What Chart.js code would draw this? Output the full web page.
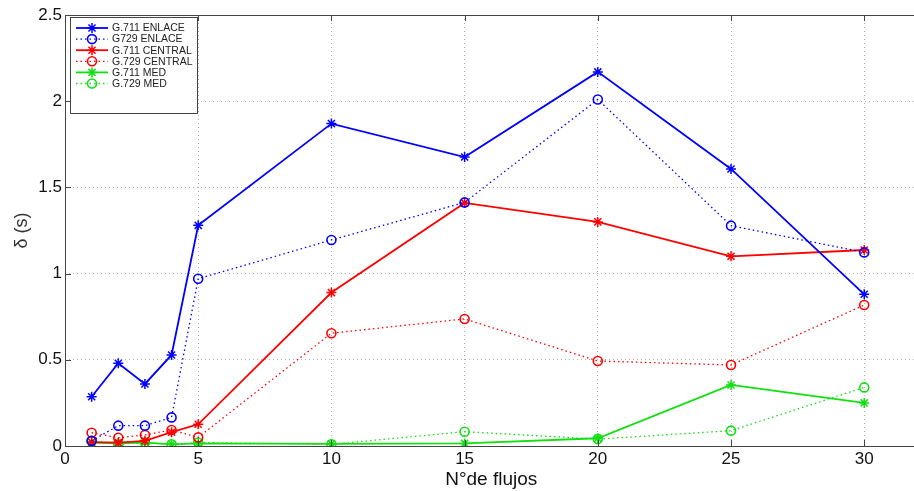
<!DOCTYPE html>
<html>
<head>
<meta charset="utf-8">
<script src="https://cdn.jsdelivr.net/npm/chart.js@4.4.1/dist/chart.umd.min.js"></script>
<style>
  html, body { margin: 0; padding: 0; background: #fff; overflow: hidden; }
  #wrap { width: 924px; height: 491px; }
</style>
</head>
<body>
<div id="wrap"><canvas id="chart" width="924" height="491"></canvas></div>
<script>
// data
const flujos = [1, 2, 3, 4, 5, 10, 15, 20, 25, 30]
const g711Enlace  = [0.286, 0.48, 0.36, 0.528, 1.28, 1.87, 1.676, 2.17, 1.607, 0.88]
const g729Enlace  = [0.03, 0.118, 0.118, 0.166, 0.97, 1.195, 1.413, 2.01, 1.278, 1.123]
const g711Central = [0.023, 0.02, 0.03, 0.08, 0.126, 0.89, 1.41, 1.30, 1.10, 1.137]
const g729Central = [0.077, 0.048, 0.064, 0.093, 0.05, 0.654, 0.737, 0.493, 0.47, 0.818]
const g711Med     = [0.02, 0.015, 0.02, 0.01, 0.015, 0.012, 0.015, 0.045, 0.354, 0.25]
const g729Med     = [0.03, 0.01, 0.02, 0.01, 0.02, 0.01, 0.083, 0.04, 0.089, 0.34]
const xTicks = [0, 5, 10, 15, 20, 25, 30]
const yTicks = [0, 0.5, 1, 1.5, 2, 2.5]

const BLUE = '#0000ff', RED = '#ff0000', GREEN = '#11e011'
const FONT = 'Arial, "Liberation Sans", sans-serif'

function pts(ys) {
  return flujos.map((x, i) => ({ x: x, y: ys[i] }))
}

function serie(label, ys, color, dotted) {
  return {
    label: label,
    data: pts(ys),
    borderColor: color,
    backgroundColor: 'transparent',
    borderWidth: dotted ? 1.3 : 1.8,
    borderDash: dotted ? [1.5, 3] : [],
    pointStyle: dotted ? 'circle' : 'star',
    pointRadius: dotted ? 4.5 : 5,
    pointBorderWidth: dotted ? 1.6 : 1.5,
    pointBorderColor: color,
    pointBackgroundColor: 'transparent',
    tension: 0
  }
}

// MATLAB-like box, inward ticks and inset legend
const matlabBox = {
  id: 'matlabBox',
  afterDraw(chart) {
    const ctx = chart.ctx
    const a = chart.chartArea
    const xs = chart.scales.x, ys = chart.scales.y
    ctx.save()
    ctx.strokeStyle = '#444'
    ctx.lineWidth = 1
    ctx.strokeRect(a.left + 0.5, a.top + 0.5, a.right - a.left, a.bottom - a.top)
    xTicks.forEach(v => {
      const px = Math.round(xs.getPixelForValue(v)) + 0.5
      ctx.beginPath()
      ctx.moveTo(px, a.bottom); ctx.lineTo(px, a.bottom - 6)
      ctx.moveTo(px, a.top); ctx.lineTo(px, a.top + 6)
      ctx.stroke()
    })
    yTicks.forEach(v => {
      const py = Math.round(ys.getPixelForValue(v)) + 0.5
      ctx.beginPath()
      ctx.moveTo(a.left, py); ctx.lineTo(a.left + 6, py)
      ctx.stroke()
    })

    // legend
    const bx = 70, by = 17, bw = 127, bh = 96
    ctx.fillStyle = '#fff'
    ctx.fillRect(bx, by, bw, bh)
    ctx.strokeStyle = '#444'
    ctx.strokeRect(bx + 0.5, by + 0.5, bw, bh)
    ctx.font = '10.5px ' + FONT
    ctx.textBaseline = 'middle'
    chart.data.datasets.forEach((ds, i) => {
      const y = by + 11 + i * 11.1
      ctx.strokeStyle = ds.borderColor
      ctx.lineWidth = ds.borderWidth
      ctx.setLineDash(ds.borderDash)
      ctx.beginPath()
      ctx.moveTo(76, y); ctx.lineTo(108, y)
      ctx.stroke()
      ctx.setLineDash([])
      ctx.fillStyle = 'rgba(0,0,0,0)'
      ctx.lineWidth = ds.pointBorderWidth
      Chart.helpers.drawPoint(ctx, { pointStyle: ds.pointStyle, radius: ds.pointRadius, borderWidth: ds.pointBorderWidth }, 92, y)
      ctx.fillStyle = '#222'
      ctx.fillText(ds.label, 112, y + 0.5)
    })
    ctx.restore()
  }
}

new Chart(document.getElementById('chart'), {
  type: 'line',
  data: {
    datasets: [
      serie('G.711 ENLACE', g711Enlace, BLUE, false),
      serie('G729 ENLACE', g729Enlace, BLUE, true),
      serie('G.711 CENTRAL', g711Central, RED, false),
      serie('G.729 CENTRAL', g729Central, RED, true),
      serie('G.711 MED', g711Med, GREEN, false),
      serie('G.729 MED', g729Med, GREEN, true)
    ]
  },
  options: {
    responsive: false,
    animation: false,
    devicePixelRatio: 1,
    layout: { padding: { top: 15, left: 0, right: 0, bottom: 0 } },
    plugins: { legend: { display: false }, tooltip: { enabled: false } },
    scales: {
      x: {
        type: 'linear',
        min: 0,
        max: 32,
        afterBuildTicks: s => { s.ticks = xTicks.map(v => ({ value: v })) },
        afterFit: s => { s.height = 45 },
        grid: { color: '#b0b0b0', drawTicks: false },
        border: { display: false, dash: [1, 3] },
        ticks: { color: '#111', font: { family: FONT, size: 17 }, padding: 3, maxRotation: 0, callback: v => String(v) },
        title: { display: true, text: 'N°de flujos', color: '#111', font: { family: FONT, size: 19 }, padding: { top: -6, bottom: 0 } }
      },
      y: {
        min: 0,
        max: 2.5,
        afterBuildTicks: s => { s.ticks = yTicks.map(v => ({ value: v })) },
        afterFit: s => { s.width = 65 },
        grid: { color: '#b0b0b0', drawTicks: false },
        border: { display: false, dash: [1, 3] },
        ticks: { color: '#111', font: { family: FONT, size: 17 }, padding: 3, callback: v => String(v) },
        title: { display: true, text: 'δ (s)', color: '#333', font: { family: FONT, size: 18 }, padding: { top: 11, bottom: 0 } }
      }
    }
  },
  plugins: [matlabBox]
})
</script>
</body>
</html>
